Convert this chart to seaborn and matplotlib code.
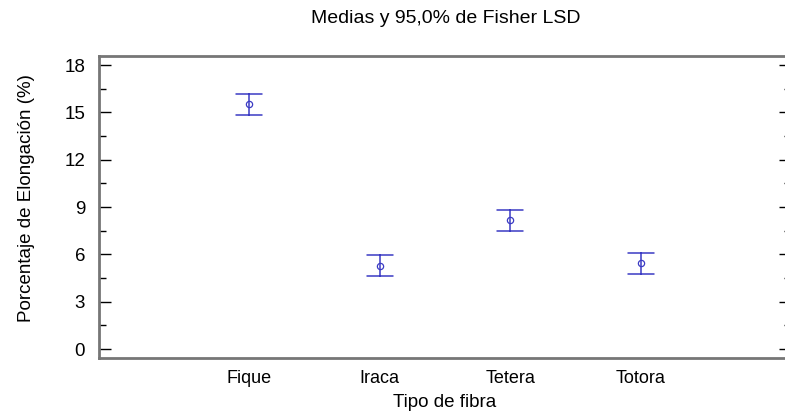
import pandas as pd
import matplotlib
matplotlib.use("Agg")
import matplotlib.pyplot as plt
import seaborn as sns
from matplotlib.ticker import MultipleLocator

# Values
fibras = ["Fique", "Iraca", "Tetera", "Totora"]
medias = [15.5, 5.27, 8.15, 5.43]
limite_inf = [14.83, 4.6, 7.47, 4.76]
limite_sup = [16.17, 5.94, 8.83, 6.1]

# long table: lower limit, mean and upper limit for each fibre
df = pd.DataFrame({
    "fibra": fibras * 3,
    "valor": limite_inf + medias + limite_sup,
})

sns.set_style("white")
plt.rcParams["font.family"] = ["Liberation Sans", "DejaVu Sans"]
plt.rcParams["text.color"] = "black"
plt.rcParams["axes.labelcolor"] = "black"

color = "#3b3bc4"
fig = plt.figure(figsize=(7.85, 4.19), dpi=100)
ax = fig.add_axes([0.1261, 0.1456, 0.8815, 0.7207])

sns.pointplot(data=df, x="fibra", y="valor", order=fibras, ax=ax,
              estimator="mean", errorbar=lambda v: (v.min(), v.max()),
              color=color, markers="o", linestyles="none", capsize=0.2,
              markersize=4.5, markerfacecolor="white", markeredgewidth=0.9,
              err_kws={"linewidth": 1.1})

ax.set_xlim(-1.148, 4.148)
ax.set_ylim(-0.57, 18.57)
ax.yaxis.set_major_locator(MultipleLocator(3))
ax.yaxis.set_minor_locator(MultipleLocator(1.5))
ax.tick_params(axis="y", which="both", direction="in", left=True, right=True,
               labelsize=13.5, pad=10, colors="black")
ax.tick_params(axis="y", which="major", length=8.5, width=1)
ax.tick_params(axis="y", which="minor", length=5, width=1)
ax.tick_params(axis="x", length=0, labelsize=13, pad=9, labelcolor="black")

for s in ax.spines.values():
    s.set_color("#767676")
    s.set_linewidth(2)

ax.set_xlabel("Tipo de fibra", fontsize=13.5, va="center")
ax.set_ylabel("Porcentaje de Elongación (%)", fontsize=13.5, va="center")
# label positions in axes fractions (axes box is 692 x 302 px)
ax.xaxis.set_label_coords(0.5, -0.149)
ax.yaxis.set_label_coords(-0.105, 0.53)
fig.text(0.568, 0.957, "Medias y 95,0% de Fisher LSD", ha="center", va="center",
         fontsize=14)

fig.savefig("out.png", dpi=100)
